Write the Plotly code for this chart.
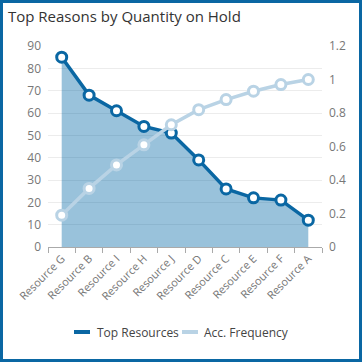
import plotly.graph_objects as go

categories = ["Resource G", "Resource B", "Resource I", "Resource H", "Resource J",
              "Resource D", "Resource C", "Resource E", "Resource F", "Resource A"]
top_resources = [85, 68, 61, 54, 51, 39, 26, 22, 21, 12]
acc_frequency = [0.19, 0.35, 0.49, 0.61, 0.73, 0.82, 0.88, 0.93, 0.97, 1.0]
left_ticks = [0, 10, 20, 30, 40, 50, 60, 70, 80, 90]
right_ticks = [0, 0.2, 0.4, 0.6, 0.8, 1.0, 1.2]
right_labels = ["0", "0.2", "0.4", "0.6", "0.8", "1", "1.2"]
series_names = ["Top Resources", "Acc. Frequency"]

W, H = 362, 362
L, R, T, B = 48, 40, 46, 115
pw, ph = W - L - R, H - T - B

dark = "#0a67a3"
light = "#b9d3e5"
font = "Open Sans"


def px(x):
    return (x - L) / pw


def py(y):
    return (T + ph - y) / ph


fig = go.Figure()
fig.add_trace(go.Scatter(
    x=categories, y=top_resources, name=series_names[0], showlegend=False,
    mode="lines+markers", fill="tozeroy", fillcolor="rgba(0,103,165,0.4)",
    line=dict(color=dark, width=3.5),
    marker=dict(size=10, color="white", line=dict(color=dark, width=3)),
))
fig.add_trace(go.Scatter(
    x=categories, y=acc_frequency, name=series_names[1], yaxis="y2", showlegend=False,
    mode="lines+markers",
    line=dict(color=light, width=3.5),
    marker=dict(size=10, color="white", line=dict(color=light, width=3)),
))

legend_y = 332
shapes = [
    dict(type="rect", xref="paper", yref="paper",
         x0=px(1.5), x1=px(W - 1.5), y0=py(H - 1.5), y1=py(1.5),
         line=dict(color="#0a67a3", width=3), layer="above"),
    dict(type="line", xref="paper", yref="paper", x0=px(74), x1=px(90),
         y0=py(legend_y), y1=py(legend_y), line=dict(color=dark, width=4)),
    dict(type="line", xref="paper", yref="paper", x0=px(182), x1=px(198),
         y0=py(legend_y), y1=py(legend_y), line=dict(color=light, width=4)),
]
annotations = [
    dict(text=series_names[0], xref="paper", yref="paper", x=px(95), y=py(legend_y),
         xanchor="left", yanchor="middle", showarrow=False,
         font=dict(size=12, color="#444", family=font)),
    dict(text=series_names[1], xref="paper", yref="paper", x=px(202), y=py(legend_y),
         xanchor="left", yanchor="middle", showarrow=False,
         font=dict(size=12, color="#444", family=font)),
]

fig.update_layout(
    width=W, height=H,
    margin=dict(l=L, r=R, t=T, b=B, autoexpand=False),
    paper_bgcolor="white", plot_bgcolor="white",
    font=dict(family=font, color="#666", size=12),
    title=dict(text="Top Reasons by Quantity on Hold", x=8 / W, xanchor="left",
               y=1 - 17 / H, yanchor="middle", xref="container", yref="container",
               font=dict(size=15, color="#333", family=font)),
    showlegend=False,
    xaxis=dict(type="category", range=[-0.5, 9.5], showgrid=False, automargin=False,
               ticks="outside", tickson="boundaries", ticklen=5, tickcolor="#aaa",
               showline=True, linecolor="#aaa", linewidth=1,
               tickangle=-45, tickfont=dict(size=11, color="#777")),
    yaxis=dict(range=[0, 90], tickvals=left_ticks, showgrid=True, gridcolor="#ececec",
               zeroline=False, showline=False, automargin=False,
               tickfont=dict(size=12, color="#777"), ticklabelstandoff=6),
    yaxis2=dict(range=[0, 1.2], tickvals=right_ticks, ticktext=right_labels,
                overlaying="y", side="right", showgrid=False, zeroline=False,
                automargin=False,
                tickfont=dict(size=12, color="#777"), ticklabelstandoff=6),
    shapes=shapes,
    annotations=annotations,
)

fig.write_html("out.html", config={"displayModeBar": False},
               post_script="document.body.style.margin='0';")
